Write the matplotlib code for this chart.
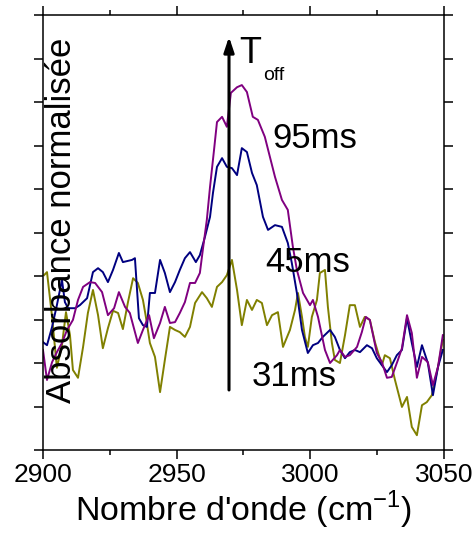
import matplotlib
matplotlib.use("Agg")
import matplotlib.pyplot as plt
from matplotlib.ticker import MultipleLocator, NullFormatter

plt.rcParams['font.family'] = ['Liberation Sans', 'DejaVu Sans']

# 95 ms trace (purple)
wn_95 = [2900.0, 2901.5, 2903.4, 2905.2, 2907.1, 2909.0, 2911.2, 2913.1, 2915.0, 2917.6,
         2919.5, 2922.1, 2924.3, 2926.6, 2928.4, 2930.7, 2932.5, 2935.5, 2937.4, 2939.7,
         2941.5, 2943.8, 2945.6, 2947.5, 2949.4, 2951.2, 2953.1, 2955.0, 2956.9, 2958.7,
         2959.8, 2961.3, 2962.5, 2964.0, 2965.1, 2967.0, 2968.8, 2970.3, 2972.6, 2974.4,
         2976.3, 2978.5, 2980.4, 2983.0, 2986.8, 2989.4, 2991.6, 2993.5, 2995.0, 2997.3,
         2999.9, 3001.0, 3002.9, 3005.5, 3007.4, 3010.0, 3011.1, 3013.0, 3014.8, 3017.5,
         3019.3, 3020.8, 3022.3, 3024.9, 3026.8, 3028.7, 3030.5, 3032.8, 3034.3, 3036.2,
         3038.0, 3039.9, 3041.8, 3044.0, 3045.9, 3047.8, 3049.6]
abs_95 = [0.230, 0.161, 0.202, 0.225, 0.246, 0.276, 0.299, 0.345, 0.375, 0.386,
          0.384, 0.363, 0.310, 0.326, 0.363, 0.329, 0.315, 0.246, 0.276, 0.310,
          0.257, 0.292, 0.329, 0.292, 0.294, 0.315, 0.340, 0.384, 0.384, 0.407,
          0.460, 0.529, 0.605, 0.690, 0.754, 0.766, 0.743, 0.821, 0.834, 0.839,
          0.823, 0.766, 0.759, 0.720, 0.628, 0.575, 0.552, 0.467, 0.414, 0.361,
          0.333, 0.345, 0.306, 0.230, 0.200, 0.218, 0.230, 0.214, 0.218, 0.237,
          0.271, 0.306, 0.299, 0.223, 0.202, 0.166, 0.168, 0.207, 0.234, 0.310,
          0.269, 0.166, 0.214, 0.202, 0.149, 0.191, 0.264]

# 45 ms trace (navy)
wn_45 = [2900.0, 2901.5, 2903.4, 2905.2, 2907.1, 2908.2, 2909.4, 2912.0, 2913.8, 2916.5,
         2918.7, 2920.6, 2922.4, 2924.3, 2926.2, 2928.4, 2929.9, 2933.3, 2934.4, 2935.9,
         2937.4, 2938.9, 2940.0, 2941.9, 2943.8, 2945.6, 2947.5, 2949.4, 2951.2, 2953.1,
         2955.0, 2957.2, 2958.7, 2960.6, 2962.5, 2963.6, 2965.1, 2967.0, 2968.8, 2970.7,
         2972.6, 2974.4, 2976.3, 2978.2, 2980.0, 2982.3, 2984.2, 2986.8, 2989.4, 2991.6,
         2993.1, 2995.0, 2996.9, 2999.1, 3001.0, 3002.9, 3004.7, 3007.4, 3009.2, 3011.1,
         3013.0, 3014.8, 3016.7, 3018.6, 3021.2, 3023.1, 3024.9, 3026.8, 3028.7, 3030.5,
         3032.4, 3034.3, 3036.2, 3038.0, 3039.9, 3041.8, 3044.0, 3045.9, 3047.8, 3049.6]
abs_45 = [0.248, 0.241, 0.283, 0.333, 0.391, 0.340, 0.326, 0.326, 0.333, 0.349,
          0.409, 0.418, 0.409, 0.386, 0.414, 0.453, 0.432, 0.437, 0.441, 0.303,
          0.287, 0.283, 0.361, 0.361, 0.437, 0.407, 0.363, 0.386, 0.414, 0.441,
          0.455, 0.432, 0.448, 0.490, 0.536, 0.591, 0.651, 0.671, 0.651, 0.648,
          0.632, 0.694, 0.685, 0.637, 0.609, 0.536, 0.506, 0.517, 0.513, 0.476,
          0.430, 0.361, 0.276, 0.223, 0.241, 0.246, 0.260, 0.276, 0.260, 0.230,
          0.211, 0.225, 0.230, 0.225, 0.241, 0.234, 0.211, 0.195, 0.179, 0.195,
          0.218, 0.230, 0.303, 0.246, 0.191, 0.241, 0.200, 0.126, 0.191, 0.230]

# 31 ms trace (olive)
wn_31 = [2900.4, 2901.5, 2903.4, 2905.2, 2907.1, 2908.6, 2910.1, 2911.2, 2913.1, 2915.0,
         2916.8, 2918.7, 2920.6, 2922.4, 2924.3, 2926.2, 2928.1, 2929.9, 2931.8, 2933.7,
         2935.5, 2937.4, 2938.5, 2940.0, 2941.9, 2943.8, 2945.6, 2947.5, 2949.4, 2951.2,
         2953.1, 2955.0, 2956.9, 2959.5, 2961.3, 2963.2, 2965.1, 2967.0, 2968.8, 2970.7,
         2972.6, 2974.4, 2976.3, 2978.2, 2980.0, 2981.9, 2983.8, 2985.7, 2987.9, 2989.8,
         2992.4, 2994.3, 2995.4, 2996.9, 2998.0, 2999.1, 3000.6, 3002.5, 3003.6, 3005.5,
         3006.6, 3008.1, 3009.2, 3011.1, 3013.0, 3014.8, 3016.7, 3018.6, 3020.4, 3022.3,
         3024.2, 3026.8, 3027.9, 3029.8, 3031.7, 3034.3, 3036.2, 3038.0, 3039.9, 3041.8,
         3043.6, 3045.5, 3047.8, 3049.6]
abs_31 = [0.402, 0.409, 0.306, 0.189, 0.241, 0.317, 0.264, 0.184, 0.166, 0.237,
          0.315, 0.368, 0.310, 0.234, 0.280, 0.320, 0.315, 0.278, 0.340, 0.395,
          0.384, 0.345, 0.306, 0.246, 0.214, 0.133, 0.207, 0.283, 0.276, 0.271,
          0.260, 0.283, 0.338, 0.363, 0.349, 0.329, 0.375, 0.386, 0.402, 0.437,
          0.368, 0.287, 0.345, 0.322, 0.345, 0.338, 0.287, 0.310, 0.317, 0.237,
          0.276, 0.322, 0.361, 0.306, 0.260, 0.237, 0.306, 0.345, 0.407, 0.414,
          0.329, 0.246, 0.207, 0.200, 0.264, 0.333, 0.333, 0.283, 0.306, 0.299,
          0.248, 0.195, 0.218, 0.211, 0.161, 0.099, 0.122, 0.053, 0.034, 0.103,
          0.110, 0.126, 0.191, 0.253]

labels = ["95ms", "45ms", "31ms"]
label_pos = [(2985.7, 0.717), (2983.0, 0.432), (2978.2, 0.170)]

fig = plt.figure(figsize=(4.75, 5.37), dpi=100)
ax = fig.add_axes([0.0905, 0.162, 0.844, 0.810])

ax.plot(wn_31, abs_31, color='#808000', lw=1.4)
ax.plot(wn_45, abs_45, color='#000080', lw=1.4)
ax.plot(wn_95, abs_95, color='#800080', lw=1.4)

ax.set_xlim(2900, 3050)
ax.set_ylim(0, 1)
ax.xaxis.set_major_locator(MultipleLocator(50))
ax.xaxis.set_minor_locator(MultipleLocator(25))
ax.yaxis.set_major_locator(MultipleLocator(0.1))
ax.yaxis.set_major_formatter(NullFormatter())
ax.tick_params(which='both', direction='out', top=True, right=True, width=1.1)
ax.tick_params(which='major', length=6.5, labelsize=19, pad=3)
ax.tick_params(which='minor', length=3.5)
for s in ax.spines.values():
    s.set_linewidth(1.1)

ax.set_xlabel("Nombre d'onde (cm$^{\\mathregular{-1}}$)", fontsize=24.5, labelpad=1)

# y label sits inside the frame
ax.text(2907.1, 0.527, "Absorbance normalisée", rotation=90, fontsize=25,
        ha='center', va='center')

# arrow showing increasing Toff
ax.annotate('', xy=(2969.6, 0.95), xytext=(2969.6, 0.138),
            arrowprops=dict(arrowstyle='-|>,head_length=0.9,head_width=0.3',
                            lw=2.2, color='black', shrinkA=0, shrinkB=0))
ax.text(2973.5, 0.912, "T", fontsize=26, ha='left', va='center')
ax.text(2982.2, 0.862, "off", fontsize=14, ha='left', va='center')

for lab, (x, y) in zip(labels, label_pos):
    ax.text(x, y, lab, fontsize=25, ha='left', va='center')

fig.savefig("out.png", dpi=100)
